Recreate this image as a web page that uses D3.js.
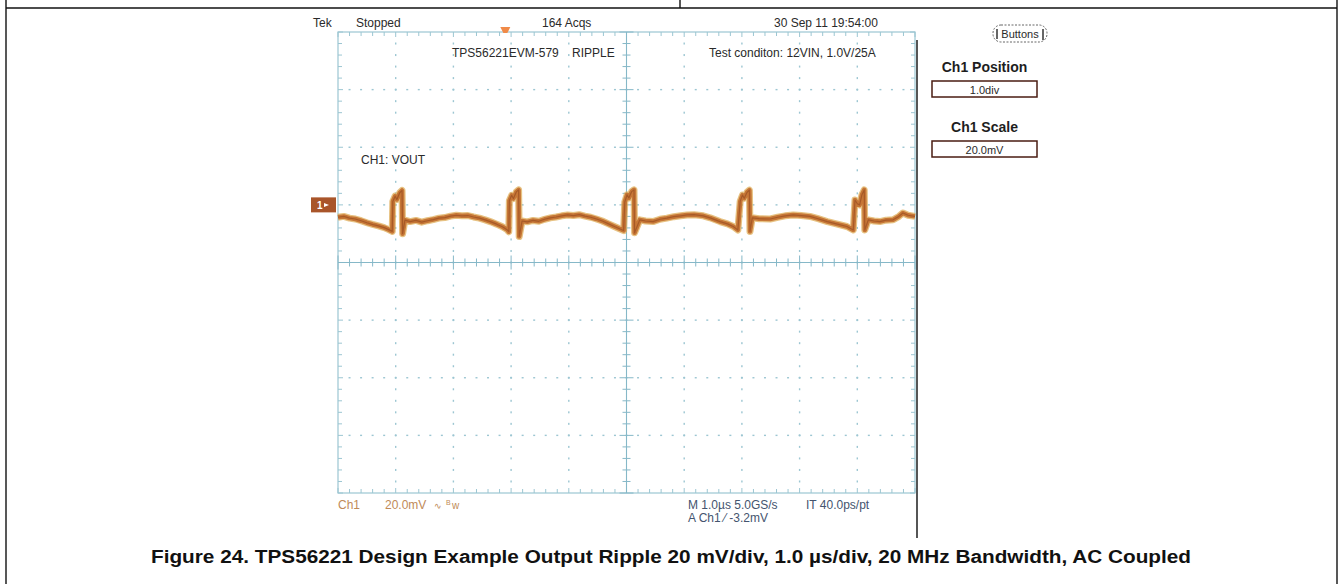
<!DOCTYPE html>
<html><head><meta charset="utf-8">
<script src="https://cdn.jsdelivr.net/npm/d3@7"></script>
<style>body{margin:0;background:#fff}svg{display:block}</style>
</head><body><svg id="c" width="1343" height="584"></svg>
<script>
// ---- data ----
// time in microseconds (screen centre = 0), voltage in mV relative to the Ch1 ground marker
const traceTime = [-5.00,-4.90,-4.80,-4.70,-4.60,-4.50,-4.40,-4.30,-4.20,-4.12,-4.06,
 -4.05,-4.01,-3.98,-3.93,-3.89,-3.88,-3.84,-3.75,-3.65,-3.55,-3.45,-3.35,-3.25,-3.15,-3.05,
 -2.95,-2.85,-2.75,-2.65,-2.55,-2.45,-2.35,-2.25,-2.15,-2.07,-2.04,
 -2.03,-1.99,-1.96,-1.91,-1.87,-1.86,-1.81,-1.72,-1.62,-1.52,-1.42,-1.32,-1.22,-1.12,-1.02,
 -0.92,-0.82,-0.72,-0.62,-0.52,-0.42,-0.32,-0.22,-0.12,-0.05,
 -0.03,0.01,0.04,0.09,0.13,0.14,0.23,0.33,0.46,0.58,0.70,0.82,0.94,1.05,1.17,1.33,1.45,1.62,1.75,1.85,1.93,
 1.97,2.01,2.04,2.09,2.13,2.14,2.18,2.30,2.49,2.62,2.75,2.89,3.03,3.18,3.32,3.48,3.62,3.82,3.93,
 3.96,4.00,4.04,4.08,4.12,4.13,4.19,4.29,4.39,4.50,4.62,4.72,4.79,4.88,5.00];
const traceMv = [-4.3,-4.0,-4.6,-4.9,-5.5,-6.2,-6.8,-7.3,-7.9,-8.6,-9.2,
 1.2,3.0,1.9,4.2,5.0,-10.0,-5.3,-5.8,-5.4,-6.0,-5.5,-5.1,-4.6,-4.4,-3.9,
 -3.6,-3.8,-3.7,-4.2,-4.6,-5.2,-5.9,-6.7,-7.6,-8.6,-9.3,
 1.5,3.3,2.2,4.5,5.2,-11.0,-5.6,-5.9,-5.4,-5.7,-5.0,-4.5,-4.2,-3.8,-3.5,
 -3.7,-3.4,-3.9,-4.3,-4.9,-5.6,-6.5,-7.4,-8.3,-8.9,
 1.0,3.5,2.4,4.6,5.2,-9.7,-5.2,-5.6,-5.8,-5.0,-4.6,-4.1,-3.8,-3.5,-3.4,-3.8,-4.5,-5.8,-6.6,-7.5,-8.7,
 1.2,3.4,2.3,4.4,5.1,-9.2,-4.5,-4.8,-4.9,-4.3,-3.8,-3.5,-3.7,-4.0,-4.8,-5.8,-6.5,-7.5,-8.7,
 1.7,0.4,0.0,3.5,5.2,-8.7,-5.2,-5.6,-5.8,-5.3,-5.2,-4.0,-2.8,-3.6,-4.0];

const timeDomain = [-5, 5];        // 10 div x 1.0 us/div
const voltDomain = [-100, 60];     // 8 div x 20 mV/div, ground 1 div above centre
const headerLabels = ["Tek", "Stopped", "164 Acqs", "30 Sep 11 19:54:00"];
const screenNotes = ["TPS56221EVM-579", "RIPPLE", "Test conditon: 12VIN, 1.0V/25A", "CH1: VOUT"];
const panelTitles = ["Ch1 Position", "Ch1 Scale"];
const panelValues = ["1.0div", "20.0mV"];
const footerCh = ["Ch1", "20.0mV"];
const footerTime = ["M 1.0µs 5.0GS/s", "IT 40.0ps/pt", "A  Ch1  ⁄  -3.2mV"];
const caption = "Figure 24. TPS56221 Design Example Output Ripple 20 mV/div, 1.0 µs/div, 20 MHz Bandwidth, AC Coupled";

// ---- drawing ----
const svg = d3.select("#c");
const L = 338, R = 915, T = 32, B = 493;
const x = d3.scaleLinear().domain(timeDomain).range([L, R]);
const y = d3.scaleLinear().domain(voltDomain).range([B, T]);
const gridCol = "#9cc6d2", gridCol2 = "#86b8c8";
const mono = "'Liberation Sans', Arial, sans-serif";

// page frame
const frame = svg.append("g").attr("stroke", "#111").attr("stroke-width", 1.4);
frame.append("line").attr("x1", 6).attr("x2", 1337).attr("y1", 8).attr("y2", 8);
frame.append("line").attr("x1", 6).attr("x2", 6).attr("y1", 0).attr("y2", 584);
frame.append("line").attr("x1", 1337).attr("x2", 1337).attr("y1", 0).attr("y2", 584);
frame.append("line").attr("x1", 680).attr("x2", 680).attr("y1", 0).attr("y2", 8);

const g = svg.append("g");
const majorX = d3.range(timeDomain[0], timeDomain[1] + 0.001, 1);
const minorX = d3.range(timeDomain[0], timeDomain[1] + 0.001, 0.2);
const majorY = d3.range(voltDomain[0], voltDomain[1] + 0.001, 20);
const minorY = d3.range(voltDomain[0], voltDomain[1] + 0.001, 4);
const cx = 0, cy = -20;

// dotted division lines
majorX.filter(v => v > timeDomain[0] && v < timeDomain[1] && v !== cx).forEach(v => {
  g.selectAll(null).data(minorY.filter(m => m > voltDomain[0] && m < voltDomain[1])).enter()
   .append("rect").attr("x", x(v) - 0.7).attr("y", d => y(d) - 1).attr("width", 1.4).attr("height", 2)
   .attr("fill", gridCol);
});
majorY.filter(v => v > voltDomain[0] && v < voltDomain[1] && v !== cy).forEach(v => {
  g.selectAll(null).data(minorX.filter(m => m > timeDomain[0] && m < timeDomain[1])).enter()
   .append("rect").attr("x", d => x(d) - 1).attr("y", y(v) - 0.7).attr("width", 2).attr("height", 1.4)
   .attr("fill", gridCol);
});

// border
g.append("rect").attr("x", L).attr("y", T).attr("width", R - L).attr("height", B - T)
 .attr("fill", "none").attr("stroke", gridCol).attr("stroke-width", 1.2);
// border ticks
const isMajorX = v => Math.abs(v - Math.round(v)) < 1e-6;
const isMajorY = v => Math.abs(v / 20 - Math.round(v / 20)) < 1e-6;
minorX.forEach(v => {
  const len = isMajorX(v) ? 5 : 4;
  g.append("line").attr("x1", x(v)).attr("x2", x(v)).attr("y1", T).attr("y2", T + len).attr("stroke", gridCol);
  g.append("line").attr("x1", x(v)).attr("x2", x(v)).attr("y1", B).attr("y2", B - len).attr("stroke", gridCol);
  const cl = isMajorX(v) ? 7 : 4;
  g.append("line").attr("x1", x(v)).attr("x2", x(v)).attr("y1", y(cy) - cl).attr("y2", y(cy) + cl).attr("stroke", gridCol2);
});
minorY.forEach(v => {
  const len = isMajorY(v) ? 5 : 4;
  g.append("line").attr("y1", y(v)).attr("y2", y(v)).attr("x1", L).attr("x2", L + len).attr("stroke", gridCol);
  g.append("line").attr("y1", y(v)).attr("y2", y(v)).attr("x1", R).attr("x2", R - len).attr("stroke", gridCol);
  const cl = isMajorY(v) ? 7 : 4;
  g.append("line").attr("y1", y(v)).attr("y2", y(v)).attr("x1", x(cx) - cl).attr("x2", x(cx) + cl).attr("stroke", gridCol2);
});
// centre cross
g.append("line").attr("x1", x(cx)).attr("x2", x(cx)).attr("y1", T).attr("y2", B).attr("stroke", gridCol2).attr("stroke-width", 1.1);
g.append("line").attr("x1", L).attr("x2", R).attr("y1", y(cy)).attr("y2", y(cy)).attr("stroke", gridCol2).attr("stroke-width", 1.1);

// right dark edge of screen image
svg.append("line").attr("x1", 917).attr("x2", 917).attr("y1", 40).attr("y2", 538).attr("stroke", "#2b2b2b").attr("stroke-width", 1.6);

// trigger position marker
svg.append("path").attr("d", `M${x(-2.1) - 5},27 L${x(-2.1) + 5},27 L${x(-2.1) + 2},33 L${x(-2.1) - 2},33 Z`).attr("fill", "#f08a48");

// ground marker
svg.append("rect").attr("x", 311).attr("y", y(0) - 7.5).attr("width", 25).attr("height", 15).attr("fill", "#a9552a");
svg.append("text").attr("x", 317).attr("y", y(0) + 4).attr("fill", "#fff").attr("font-family", mono)
  .attr("font-size", 10).attr("font-weight", "bold").text("1");
svg.append("path").attr("d", `M324,${y(0) - 2} L329,${y(0)} L324,${y(0) + 2} Z`).attr("fill", "#fff");

// trace
const pts = traceTime.map((t, i) => ({ t, v: traceMv[i] }));
const line = d3.line().x(d => x(d.t)).y(d => y(d.v));
svg.append("path").datum(pts).attr("d", line).attr("fill", "none").attr("stroke", "#dda84e")
  .attr("stroke-width", 7).attr("stroke-linejoin", "round").attr("opacity", 0.7);
svg.append("path").datum(pts).attr("d", line).attr("fill", "none").attr("stroke", "#c47232")
  .attr("stroke-width", 4.5).attr("stroke-linejoin", "round").attr("opacity", 0.95);
svg.append("path").datum(pts).attr("d", line).attr("fill", "none").attr("stroke", "#9e5224")
  .attr("stroke-width", 1.2).attr("stroke-linejoin", "round").attr("opacity", 0.8);

// text helper
const txt = (s, xx, yy, opts = {}) => svg.append("text").attr("x", xx).attr("y", yy)
  .attr("font-family", opts.family || mono).attr("font-size", opts.size || 12)
  .attr("font-weight", opts.weight || "normal").attr("fill", opts.fill || "#2a2a2a")
  .attr("text-anchor", opts.anchor || "start").text(s);
txt(headerLabels[0], 313, 26.5);
txt(headerLabels[1], 356, 26.5);
txt(headerLabels[2], 542, 26.5);
txt(headerLabels[3], 774, 26.5);
txt(screenNotes[0], 452, 57);
txt(screenNotes[1], 572, 57);
txt(screenNotes[2], 709, 57);
txt(screenNotes[3], 361, 164);

// footer text
txt(footerCh[0], 338, 509, { fill: "#c08a58" });
txt(footerCh[1], 385, 509, { fill: "#c08a58" });
txt("∿", 434, 509, { fill: "#c08a58", size: 9 });
txt("B", 446, 505, { fill: "#c08a58", size: 7 });
txt("w", 452, 509, { fill: "#c08a58", size: 10 });
txt(footerTime[0], 688, 509, { fill: "#44546e" });
txt(footerTime[1], 806, 509, { fill: "#44546e" });
txt(footerTime[2], 688, 522, { fill: "#44546e" });

// right panel
svg.append("rect").attr("x", 993).attr("y", 25).attr("width", 54).attr("height", 17).attr("rx", 8)
  .attr("fill", "none").attr("stroke", "#666").attr("stroke-width", 1).attr("stroke-dasharray", "2,1.5");
svg.append("line").attr("x1", 997).attr("x2", 997).attr("y1", 29).attr("y2", 39).attr("stroke", "#333").attr("stroke-width", 1.5);
svg.append("line").attr("x1", 1043).attr("x2", 1043).attr("y1", 29).attr("y2", 40).attr("stroke", "#333").attr("stroke-width", 1.5);
txt("Buttons", 1020, 38, { anchor: "middle", size: 11 });

const boxY = [81, 141];
const titleY = [71.5, 131.5];
panelTitles.forEach((s, i) => {
  txt(s, 984.5, titleY[i], { anchor: "middle", size: 14, weight: "bold", fill: "#1e1e1e" });
  svg.append("rect").attr("x", 932).attr("y", boxY[i]).attr("width", 105).attr("height", 16)
    .attr("fill", "#fff").attr("stroke", "#4a1c12").attr("stroke-width", 1.5);
  txt(panelValues[i], 984.5, boxY[i] + 12.5, { anchor: "middle", size: 11 });
});

// caption
txt(caption, 671, 563, { anchor: "middle", size: 17.5, weight: "bold", family: "'Liberation Sans', Arial, sans-serif", fill: "#111" })
  .attr("textLength", 1040).attr("lengthAdjust", "spacingAndGlyphs");
</script>
</body></html>
